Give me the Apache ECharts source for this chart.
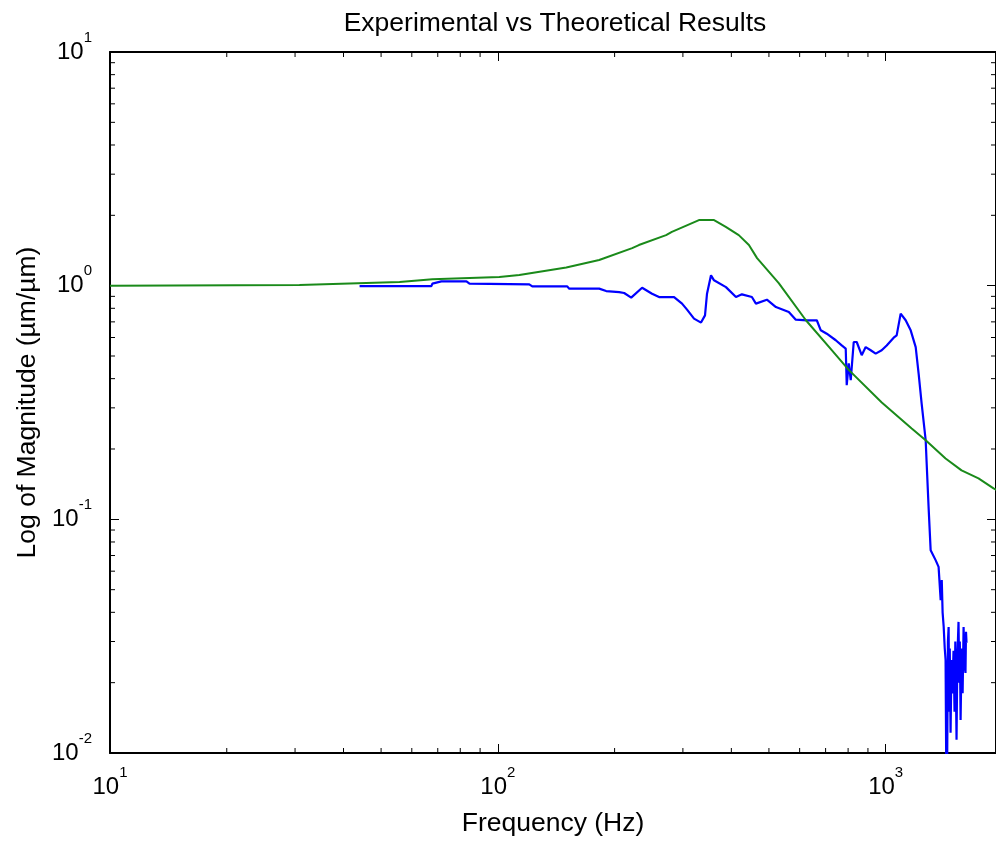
<!DOCTYPE html>
<html>
<head>
<meta charset="utf-8">
<script src="https://cdn.jsdelivr.net/npm/echarts@6/dist/echarts.min.js"></script>
<style>
html,body{margin:0;padding:0;background:#fff;}
#chart{width:996px;height:842px;}
</style>
</head>
<body>
<div id="chart"></div>
<script>
// ---- data ----
const titleText = 'Experimental vs Theoretical Results';
const xName = 'Frequency (Hz)';
const yName = 'Log of Magnitude (\u00b5m/\u00b5m)';

const xMin = 10, xMax = 1925;
const yMin = 0.01, yMax = 10;

const xMinorTicks = [20,30,40,50,60,70,80,90,200,300,400,500,600,700,800,900];
const yMinorTicks = [0.02,0.03,0.04,0.05,0.06,0.07,0.08,0.09,0.2,0.3,0.4,0.5,0.6,0.7,0.8,0.9,2,3,4,5,6,7,8,9];

// Theoretical (green)
const theoFreq = [10, 30.8, 55.8, 67.8, 100.9, 113.6, 150.1, 182.5, 222, 231, 271.5, 281, 330, 361, 387, 418, 444, 466, 530, 622, 726, 803, 977, 1167, 1268, 1427, 1569, 1735, 1897, 2000];
const theoMag  = [1.0, 1.006, 1.036, 1.064, 1.088, 1.11, 1.197, 1.287, 1.448, 1.492, 1.645, 1.70, 1.908, 1.908, 1.786, 1.645, 1.492, 1.312, 1.026, 0.713, 0.530, 0.436, 0.316, 0.2446, 0.218, 0.182, 0.162, 0.1496, 0.1356, 0.13];

// Experimental (blue)
const expFreq = [44.0, 55.8, 67.4, 67.8, 71.5, 83.0, 84.5, 120.5, 122.7, 151, 152.8, 182.5, 190.2, 205.5, 211.7, 220.7, 235.5, 249.8, 260.4, 284.7, 298.5, 307.5, 320.5, 334.1, 342.1, 346.2, 354.5, 360.9, 387.4, 411.1, 425.9, 451.9, 462.8, 494, 521.2, 562.7, 586.5, 626, 664.3, 680.2, 704.8, 743.5, 770.3, 788.8, 793.5, 803, 812.6, 827.2, 842, 867.3, 888.1, 914.8, 942.4, 976.6, 1006, 1048.6, 1067.4, 1093, 1126, 1160, 1195, 1216, 1238, 1268, 1275, 1290, 1306, 1345, 1369, 1386, 1395, 1402, 1411, 1420, 1427, 1432, 1436, 1441, 1447, 1453, 1458, 1463, 1470, 1478, 1485, 1496, 1505, 1512, 1523, 1530, 1541, 1548, 1553, 1560, 1570, 1579, 1588, 1596, 1606, 1611, 1616, 1616];
const expMag  = [0.996, 0.996, 0.996, 1.02, 1.043, 1.043, 1.02, 1.013, 0.993, 0.993, 0.971, 0.971, 0.948, 0.939, 0.93, 0.889, 0.98, 0.924, 0.894, 0.894, 0.838, 0.79, 0.723, 0.695, 0.746, 0.924, 1.107, 1.054, 0.986, 0.894, 0.918, 0.894, 0.838, 0.871, 0.81, 0.771, 0.715, 0.711, 0.711, 0.644, 0.623, 0.584, 0.555, 0.538, 0.375, 0.465, 0.394, 0.574, 0.574, 0.504, 0.546, 0.529, 0.512, 0.529, 0.555, 0.599, 0.613, 0.759, 0.711, 0.644, 0.546, 0.42, 0.313, 0.218, 0.176, 0.1131, 0.0738, 0.0669, 0.0626, 0.0451, 0.055, 0.040, 0.0347, 0.028, 0.025, 0.0098, 0.016, 0.0098, 0.030, 0.0346, 0.015, 0.028, 0.0122, 0.025, 0.018, 0.0274, 0.015, 0.030, 0.0114, 0.025, 0.0364, 0.020, 0.030, 0.01385, 0.028, 0.018, 0.0346, 0.024, 0.022, 0.033, 0.0326, 0.0296];

// ---- chart ----
const FONT = '"Liberation Sans", Arial, sans-serif';
const chart = echarts.init(document.getElementById('chart'), null, {renderer: 'canvas'});

function pow10Label(v) {
  const e = Math.log10(v);
  const r = Math.round(e);
  if (Math.abs(e - r) > 1e-6) return '';
  return '{b|10}{s|' + r + '}';
}
const richLabel = {
  b: {fontSize: 24, fontFamily: FONT, color: '#000', verticalAlign: 'middle'},
  s: {fontSize: 15, fontFamily: FONT, color: '#000', padding: [0, 0, 29, 0], verticalAlign: 'middle'}
};

function minorX(params, api) {
  const v = api.value(0);
  const b = api.coord([v, yMin]);
  const t = api.coord([v, yMax]);
  return {type: 'group', children: [
    {type: 'line', shape: {x1: b[0], y1: b[1], x2: b[0], y2: b[1] - 5}, style: {stroke: '#000', lineWidth: 1}},
    {type: 'line', shape: {x1: t[0], y1: t[1], x2: t[0], y2: t[1] + 5}, style: {stroke: '#000', lineWidth: 1}}
  ]};
}
function minorY(params, api) {
  const v = api.value(1);
  const l = api.coord([xMin, v]);
  const r = api.coord([xMax, v]);
  return {type: 'group', children: [
    {type: 'line', shape: {x1: l[0], y1: l[1], x2: l[0] + 5, y2: l[1]}, style: {stroke: '#000', lineWidth: 1}},
    {type: 'line', shape: {x1: r[0], y1: r[1], x2: r[0] - 5, y2: r[1]}, style: {stroke: '#000', lineWidth: 1}}
  ]};
}

const axisLineStyle = {show: true, lineStyle: {color: '#000', width: 2}};
const tickStyle = {show: true, inside: true, length: 9, lineStyle: {color: '#000', width: 1}};

const option = {
  animation: false,
  backgroundColor: '#fff',
  title: {
    text: titleText,
    left: 555,
    top: 10,
    padding: 0,
    textAlign: 'center',
    textStyle: {fontFamily: FONT, fontSize: 26.5, fontWeight: 'normal', color: '#000'}
  },
  grid: {left: 110, right: 0, top: 52, bottom: 89, containLabel: false},
  xAxis: [{
    type: 'log', logBase: 10, min: xMin, max: xMax, position: 'bottom',
    name: xName, nameLocation: 'middle', nameGap: 57,
    nameTextStyle: {fontFamily: FONT, fontSize: 26.5, color: '#000'},
    axisLine: axisLineStyle, axisTick: tickStyle,
    axisLabel: {show: true, margin: 12, formatter: pow10Label, rich: richLabel, showMinLabel: true, showMaxLabel: false},
    splitLine: {show: false}, minorTick: {show: false}
  }, {
    type: 'log', logBase: 10, min: xMin, max: xMax, position: 'top',
    axisLine: axisLineStyle, axisTick: tickStyle, axisLabel: {show: false}, splitLine: {show: false}
  }],
  yAxis: [{
    type: 'log', logBase: 10, min: yMin, max: yMax, position: 'left',
    name: yName, nameLocation: 'middle', nameGap: 67,
    nameTextStyle: {fontFamily: FONT, fontSize: 26.5, color: '#000'},
    axisLine: axisLineStyle, axisTick: tickStyle,
    axisLabel: {show: true, margin: 18, formatter: pow10Label, rich: richLabel},
    splitLine: {show: false}
  }, {
    type: 'log', logBase: 10, min: yMin, max: yMax, position: 'right',
    axisLine: axisLineStyle, axisTick: tickStyle, axisLabel: {show: false}, splitLine: {show: false}
  }],
  series: [
    {
      type: 'custom', xAxisIndex: 0, yAxisIndex: 0, renderItem: minorX, clip: false, silent: true,
      data: xMinorTicks.map(v => [v, yMin]), encode: {x: 0, y: 1}
    },
    {
      type: 'custom', xAxisIndex: 0, yAxisIndex: 0, renderItem: minorY, clip: false, silent: true,
      data: yMinorTicks.map(v => [xMin, v]), encode: {x: 0, y: 1}
    },
    {
      name: 'Experimental', type: 'line', xAxisIndex: 0, yAxisIndex: 0,
      data: expFreq.map((f, i) => [f, expMag[i]]),
      showSymbol: false, symbol: 'none', smooth: false, clip: true,
      lineStyle: {color: '#0000ff', width: 2.2}, z: 3
    },
    {
      name: 'Theoretical', type: 'line', xAxisIndex: 0, yAxisIndex: 0,
      data: theoFreq.map((f, i) => [f, theoMag[i]]),
      showSymbol: false, symbol: 'none', smooth: false, clip: true,
      lineStyle: {color: '#1a8a1a', width: 2}, z: 4
    }
  ]
};
chart.setOption(option);
</script>
</body>
</html>
